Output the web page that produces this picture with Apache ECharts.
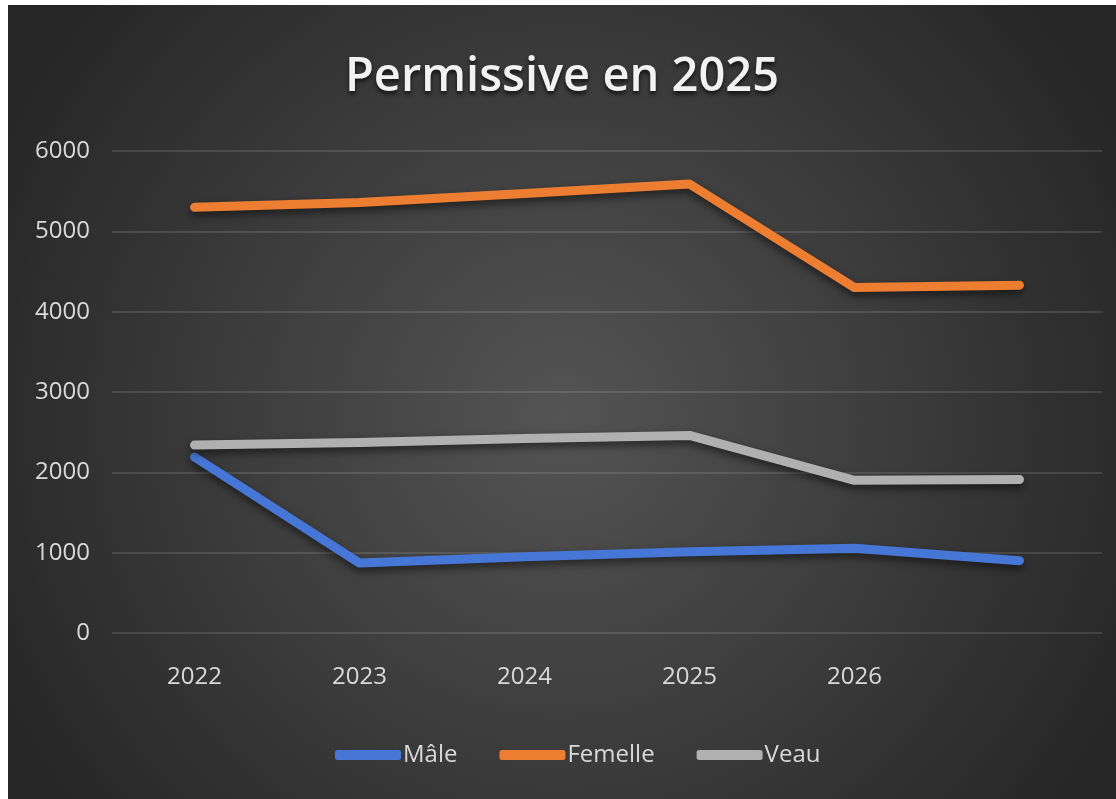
<!DOCTYPE html>
<html>
<head>
<meta charset="utf-8">
<script src="https://cdn.jsdelivr.net/npm/echarts@6/dist/echarts.min.js"></script>
<style>
  html, body { margin: 0; padding: 0; background: #ffffff; }
  #chart {
    position: absolute;
    left: 8px;
    top: 5px;
    width: 1108px;
    height: 794px;
  }
</style>
</head>
<body>
<div id="chart"></div>
<script>
// categories (the last one has no label in the original)
const years = ["2022", "2023", "2024", "2025", "2026", ""];
const male = [2190, 870, 950, 1010, 1055, 900];
const femelle = [5300, 5360, 5470, 5590, 4300, 4330];
const veau = [2340, 2370, 2420, 2460, 1900, 1910];
const yTicks = { min: 0, max: 6000, interval: 1000 };

const chart = echarts.init(document.getElementById("chart"));

function lineSeries(name, data, color) {
  return {
    name: name,
    type: "line",
    data: data,
    symbol: "none",
    color: color,
    lineStyle: {
      width: 9,
      color: color,
      cap: "round",
      join: "round",
      shadowColor: "rgba(0,0,0,0.55)",
      shadowBlur: 8,
      shadowOffsetY: 4
    }
  };
}

chart.setOption({
  backgroundColor: {
    type: "radial",
    x: 0.5,
    y: 0.52,
    r: 0.8,
    colorStops: [
      { offset: 0, color: "#545454" },
      { offset: 1, color: "#262626" }
    ]
  },
  animation: false,
  title: {
    text: "Permissive en 2025",
    left: "center",
    top: 44,
    textStyle: {
      color: "#f2f2f2",
      fontFamily: "Open Sans",
      fontWeight: 600,
      fontSize: 47,
      textShadowColor: "rgba(0,0,0,0.7)",
      textShadowBlur: 4,
      textShadowOffsetY: 3
    }
  },
  legend: {
    left: 322,
    top: 733,
    itemWidth: 66,
    itemHeight: 10,
    itemGap: 42,
    icon: "roundRect",
    textStyle: {
      color: "#d9d9d9",
      fontFamily: "Open Sans",
      fontSize: 24,
      padding: [0, 0, 0, -3]
    },
    data: ["Mâle", "Femelle", "Veau"]
  },
  grid: {
    left: 104,
    right: 14,
    top: 146,
    bottom: 166
  },
  xAxis: {
    type: "category",
    data: years,
    boundaryGap: true,
    axisLine: { show: false },
    axisTick: { show: false },
    axisLabel: {
      color: "#d9d9d9",
      fontFamily: "Open Sans",
      fontSize: 24,
      margin: 32
    }
  },
  yAxis: {
    type: "value",
    min: yTicks.min,
    max: yTicks.max,
    interval: yTicks.interval,
    axisLine: { show: false },
    axisTick: { show: false },
    axisLabel: {
      color: "#d9d9d9",
      fontFamily: "Open Sans",
      fontSize: 24,
      margin: 22,
      formatter: function (v) { return String(v); }
    },
    splitLine: {
      lineStyle: { color: "rgba(255,255,255,0.16)", width: 1.5 }
    }
  },
  series: [
    lineSeries("Mâle", male, "#4677d6"),
    lineSeries("Femelle", femelle, "#ed7d31"),
    lineSeries("Veau", veau, "#b0b0b0")
  ]
});
</script>
</body>
</html>
